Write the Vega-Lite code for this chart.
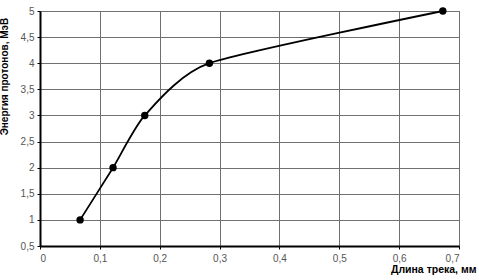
{
  "$schema": "https://vega.github.io/schema/vega-lite/v6.json",
  "width": 419,
  "height": 235,
  "autosize": {"type": "none"},
  "padding": {"left": 40, "top": 11, "right": 20, "bottom": 34},
  "background": "white",
  "config": {
    "locale": {"number": {"decimal": ",", "thousands": " ", "grouping": [3], "currency": ["", ""]}},
    "font": "Liberation Sans",
    "view": {"stroke": "#808080", "strokeWidth": 1}
  },
  "data": {"values": [
    {"len": 0.067, "energy": 1},
    {"len": 0.122, "energy": 2},
    {"len": 0.175, "energy": 3},
    {"len": 0.283, "energy": 4},
    {"len": 0.673, "energy": 5}
  ]},
  "encoding": {
    "x": {"field": "len", "type": "quantitative",
      "scale": {"domain": [0, 0.7], "nice": false, "zero": false},
      "axis": {"values": [0, 0.1, 0.2, 0.3, 0.4, 0.5, 0.6, 0.7], "format": "~g",
        "title": "Длина трека, мм", "titleFont": "Liberation Sans", "titleFontWeight": "bold", "titleFontSize": 10.5,
        "titleColor": "#000", "titleAnchor": "end", "titleAlign": "right", "titleX": 436, "titleY": 26, "titleBaseline": "alphabetic",
        "labelFontSize": 10, "labelColor": "#555", "labelPadding": 4,
        "domainColor": "#000", "domainWidth": 2, "tickColor": "#000", "tickSize": 3,
        "grid": true, "gridColor": "#707070", "gridWidth": 1}},
    "y": {"field": "energy", "type": "quantitative",
      "scale": {"domain": [0.5, 5], "nice": false, "zero": false},
      "axis": {"values": [0.5, 1, 1.5, 2, 2.5, 3, 3.5, 4, 4.5, 5], "format": "~g",
        "title": "Энергия протонов, МэВ", "titleFont": "Liberation Sans", "titleFontWeight": "bold", "titleFontSize": 10,
        "titleColor": "#000", "titleX": -31, "titleY": 65, "titleAnchor": "middle",
        "labelFontSize": 10, "labelColor": "#555", "labelPadding": 3,
        "domainColor": "#000", "domainWidth": 2, "tickColor": "#000", "tickSize": 3,
        "grid": true, "gridColor": "#707070", "gridWidth": 1}}
  },
  "layer": [
    {"mark": {"type": "line", "interpolate": "cardinal", "tension": 0.4, "color": "#000", "strokeWidth": 1.8}},
    {"mark": {"type": "point", "filled": true, "color": "#000", "size": 55, "opacity": 1}}
  ]
}
